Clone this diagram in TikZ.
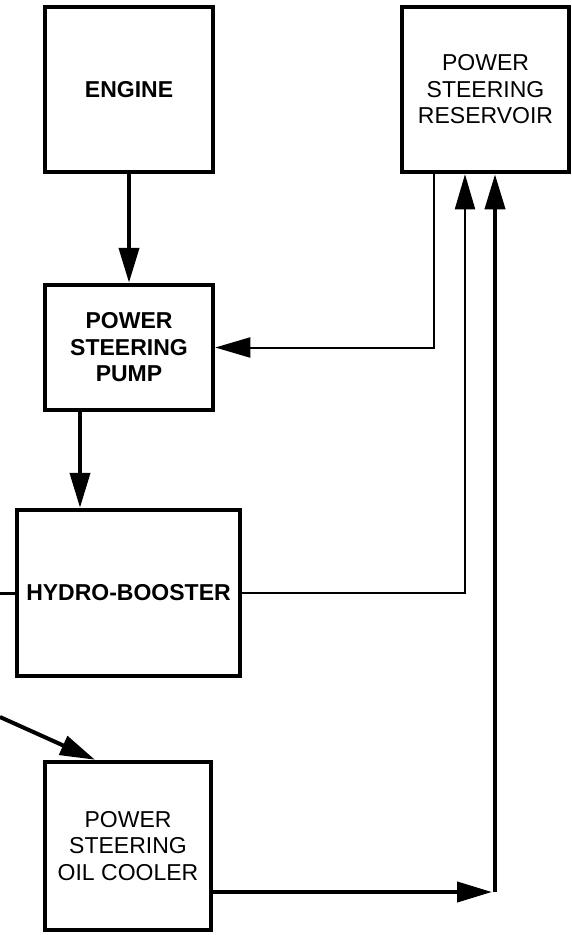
\documentclass[tikz,border=0pt]{standalone}
\usepackage{fontspec}
\setmainfont{Liberation Sans}
\usetikzlibrary{arrows.meta,positioning,calc}

\tikzset{
  unitbox/.style={draw, line width=4.5pt, inner sep=2pt, align=center, font=\fontsize{23}{26.5}\selectfont},
  boldbox/.style={unitbox, font=\fontsize{23}{26.5}\selectfont\bfseries},
  heavyflow/.style={line width=4pt, -{Triangle[length=35pt,width=20pt]}},
  lightflow/.style={line width=2pt, -{Triangle[length=35pt,width=20pt]}}
}

\begin{document}
\begin{tikzpicture}[x=1pt,y=-1pt]

\useasboundingbox (0,0) rectangle (572,935);

  % Boxes
\node[boldbox, minimum width=168pt, minimum height=165pt] (engine) at (129,89.5) {ENGINE};
\node[unitbox, minimum width=167pt, minimum height=165pt] (res) at (485.5,89.5) {POWER\\STEERING\\RESERVOIR};
\node[boldbox, minimum width=168pt, minimum height=125pt] (pump) at (129,347.5) {POWER\\STEERING\\PUMP};
\node[boldbox, minimum width=223pt, minimum height=166pt, inner sep=0pt] (booster) at (128.5,593) {HYDRO-BOOSTER};
\node[unitbox, minimum width=166pt, minimum height=168pt] (cooler) at (128,846) {POWER\\STEERING\\OIL COOLER};

% Free ends
\coordinate (inB) at (0,593);
\coordinate (inC) at (0,717);
\coordinate (j) at (495,892);

% Arrows
\draw[heavyflow] (engine.south) -- (pump.north);
\draw[heavyflow] ([xshift=-49pt]pump.south) -- ([xshift=-49pt]pump.south |- booster.north);
\draw[lightflow] ([xshift=-51.5pt]res.south) |- (pump.east);
\draw[lightflow] (booster.east) -| ([xshift=-20.5pt]res.south);
\draw[line width=3pt] (inB) -- (booster.west);
\draw[heavyflow] (inC) -- ([xshift=-33pt]cooler.north);
\draw[heavyflow, shorten >=3pt] (cooler.east |- j) -- (j);
\draw[heavyflow] (j) -- (j |- res.south);

\end{tikzpicture}
\end{document}
